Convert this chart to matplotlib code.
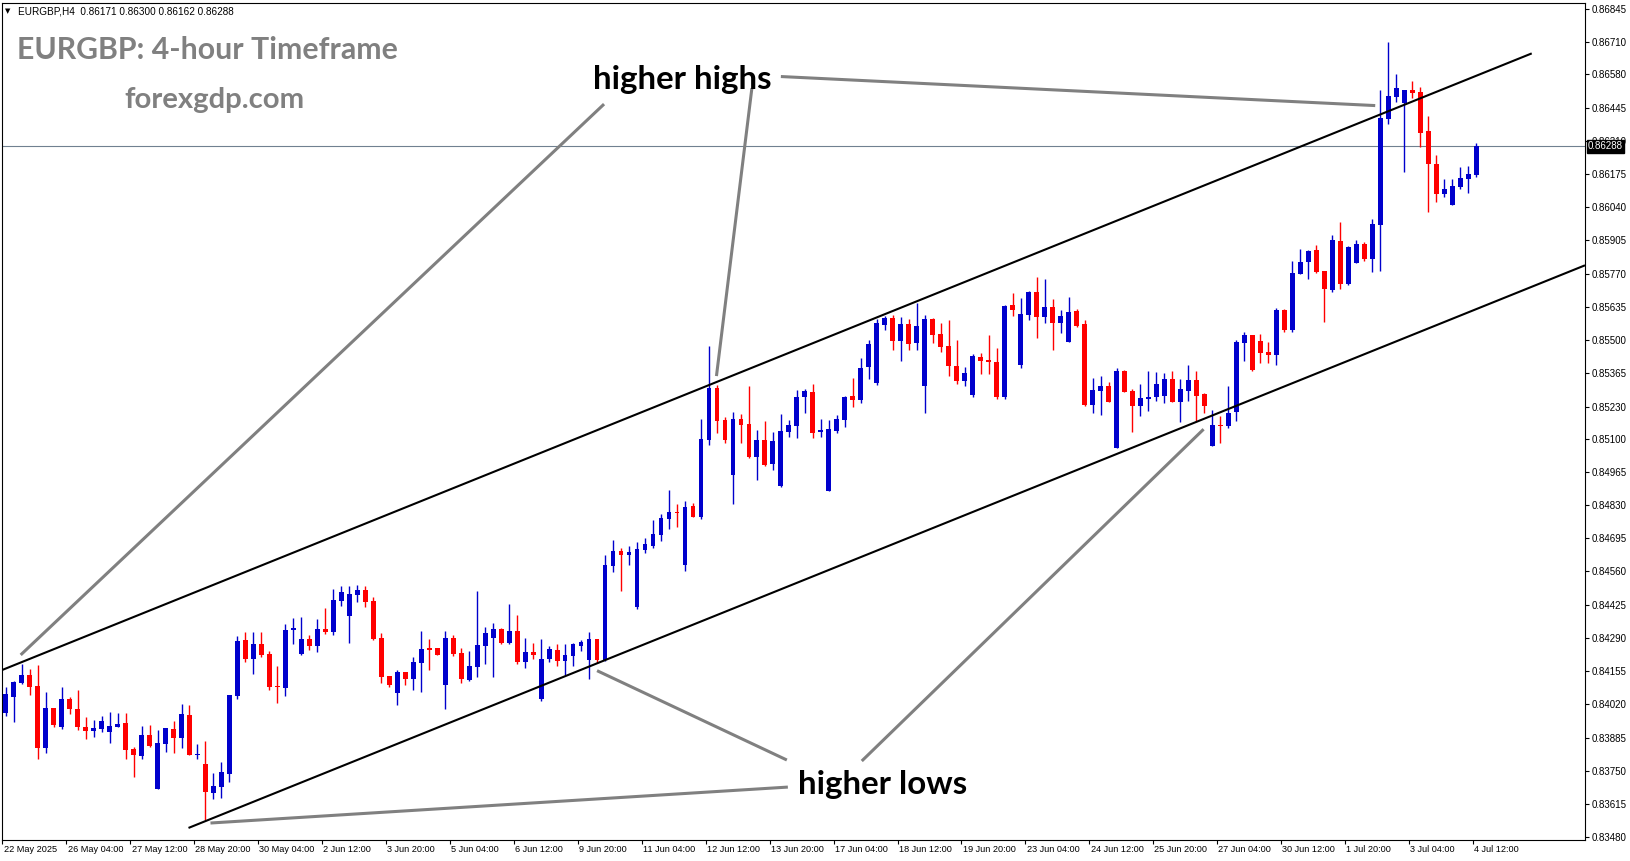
#!/usr/bin/env python3
#
# plot.py - EURGBP H4 candlestick chart with rising channel
#

import numpy as np
import matplotlib
matplotlib.use("Agg")
import matplotlib.pyplot as plt
import matplotlib.transforms as mtrans

#%%============================================================================
# Data
#==============================================================================
opens = [
    0.83986, 0.84051, 0.84108, 0.84138, 0.84095, 0.83843, 0.84005, 0.83929, 0.84041, 0.84003,
    0.83927, 0.83913, 0.83921, 0.83908, 0.83929, 0.83943, 0.83840, 0.83810, 0.83894, 0.83677,
    0.83859, 0.83919, 0.83883, 0.83976, 0.83816, 0.83778, 0.83661, 0.83686, 0.83737, 0.84053,
    0.84282, 0.84206, 0.84265, 0.84225, 0.84095, 0.84087, 0.84322, 0.84225, 0.84284, 0.84257,
    0.84325, 0.84314, 0.84441, 0.84379, 0.84466, 0.84485, 0.84439, 0.84290, 0.84135, 0.84067,
    0.84152, 0.84124, 0.84189, 0.84249, 0.84249, 0.84100, 0.84290, 0.84228, 0.84119, 0.84173,
    0.84257, 0.84290, 0.84325, 0.84271, 0.84317, 0.84192, 0.84233, 0.84043, 0.84203, 0.84241,
    0.84197, 0.84217, 0.84257, 0.84200, 0.84284, 0.84200, 0.84583, 0.84643, 0.84628, 0.84414,
    0.84647, 0.84665, 0.84709, 0.84774, 0.84802, 0.84587, 0.84825, 0.84783, 0.85094, 0.85305,
    0.85175, 0.84953, 0.85179, 0.85159, 0.85026, 0.85094, 0.84998, 0.84907, 0.85128, 0.85152,
    0.85270, 0.85289, 0.85128, 0.84888, 0.85132, 0.85177, 0.85273, 0.85258, 0.85391, 0.85326,
    0.85563, 0.85590, 0.85498, 0.85565, 0.85489, 0.85314, 0.85586, 0.85525, 0.85476, 0.85395,
    0.85335, 0.85277, 0.85430, 0.85419, 0.85411, 0.85270, 0.85643, 0.85399, 0.85603, 0.85695,
    0.85595, 0.85634, 0.85571, 0.85493, 0.85618, 0.85565, 0.85236, 0.85294, 0.85314, 0.85063,
    0.85374, 0.85293, 0.85233, 0.85262, 0.85270, 0.85274, 0.85342, 0.85250, 0.85294, 0.85338,
    0.85281, 0.85071, 0.85154, 0.85152, 0.85207, 0.85489, 0.85521, 0.85496, 0.85452, 0.85441,
    0.85622, 0.85542, 0.85770, 0.85818, 0.85865, 0.85781, 0.85703, 0.85903, 0.85729, 0.85814,
    0.85890, 0.85831, 0.85969, 0.86399, 0.86489, 0.86464, 0.86515, 0.86508, 0.86349, 0.86215,
    0.86095, 0.86050, 0.86123, 0.86156, 0.86171]

highs = [
    0.84092, 0.84116, 0.84184, 0.84165, 0.84179, 0.84070, 0.84005, 0.84092, 0.84051, 0.84078,
    0.83968, 0.83957, 0.83973, 0.83989, 0.83984, 0.83984, 0.83846, 0.83932, 0.83935, 0.83916,
    0.83924, 0.83951, 0.84022, 0.84016, 0.83859, 0.83873, 0.83742, 0.83786, 0.84057, 0.84298,
    0.84314, 0.84314, 0.84314, 0.84238, 0.84174, 0.84347, 0.84371, 0.84374, 0.84301, 0.84366,
    0.84412, 0.84488, 0.84501, 0.84501, 0.84504, 0.84501, 0.84455, 0.84309, 0.84135, 0.84160,
    0.84152, 0.84211, 0.84317, 0.84284, 0.84249, 0.84317, 0.84303, 0.84249, 0.84238, 0.84479,
    0.84333, 0.84349, 0.84330, 0.84428, 0.84382, 0.84290, 0.84268, 0.84284, 0.84257, 0.84265,
    0.84265, 0.84268, 0.84282, 0.84314, 0.84284, 0.84627, 0.84688, 0.84654, 0.84663, 0.84680,
    0.84695, 0.84769, 0.84793, 0.84891, 0.84834, 0.84846, 0.84837, 0.85179, 0.85476, 0.85319,
    0.85186, 0.85208, 0.85200, 0.85314, 0.85135, 0.85171, 0.85127, 0.85200, 0.85175, 0.85297,
    0.85300, 0.85322, 0.85179, 0.85175, 0.85196, 0.85273, 0.85346, 0.85427, 0.85500, 0.85586,
    0.85598, 0.85601, 0.85595, 0.85584, 0.85652, 0.85602, 0.85591, 0.85568, 0.85582, 0.85500,
    0.85390, 0.85443, 0.85446, 0.85521, 0.85468, 0.85643, 0.85693, 0.85671, 0.85699, 0.85758,
    0.85748, 0.85667, 0.85622, 0.85676, 0.85626, 0.85582, 0.85346, 0.85354, 0.85330, 0.85387,
    0.85378, 0.85301, 0.85322, 0.85373, 0.85372, 0.85366, 0.85374, 0.85342, 0.85400, 0.85374,
    0.85286, 0.85216, 0.85192, 0.85314, 0.85500, 0.85533, 0.85521, 0.85525, 0.85492, 0.85630,
    0.85628, 0.85821, 0.85870, 0.85867, 0.85885, 0.85781, 0.85928, 0.85980, 0.85882, 0.85907,
    0.85899, 0.85992, 0.86516, 0.86711, 0.86581, 0.86517, 0.86553, 0.86528, 0.86410, 0.86252,
    0.86154, 0.86154, 0.86204, 0.86207, 0.86300]

lows = [
    0.83973, 0.83948, 0.84103, 0.84059, 0.83799, 0.83824, 0.83929, 0.83921, 0.83981, 0.83916,
    0.83881, 0.83889, 0.83908, 0.83864, 0.83929, 0.83799, 0.83726, 0.83799, 0.83848, 0.83677,
    0.83827, 0.83824, 0.83843, 0.83816, 0.83799, 0.83550, 0.83637, 0.83640, 0.83705, 0.84043,
    0.84192, 0.84143, 0.84214, 0.84078, 0.84027, 0.84053, 0.84265, 0.84222, 0.84241, 0.84233,
    0.84306, 0.84303, 0.84420, 0.84271, 0.84436, 0.84417, 0.84282, 0.84106, 0.84089, 0.84016,
    0.84100, 0.84078, 0.84070, 0.84160, 0.84222, 0.84000, 0.84217, 0.84108, 0.84116, 0.84132,
    0.84184, 0.84132, 0.84265, 0.84265, 0.84184, 0.84168, 0.84206, 0.84035, 0.84192, 0.84176,
    0.84141, 0.84176, 0.84238, 0.84122, 0.84187, 0.84196, 0.84559, 0.84482, 0.84587, 0.84409,
    0.84636, 0.84657, 0.84685, 0.84733, 0.84742, 0.84563, 0.84783, 0.84774, 0.85075, 0.85124,
    0.85083, 0.84834, 0.85083, 0.85021, 0.84932, 0.84989, 0.84972, 0.84904, 0.85108, 0.85102,
    0.85205, 0.85102, 0.85108, 0.84888, 0.85124, 0.85148, 0.85229, 0.85243, 0.85342, 0.85318,
    0.85541, 0.85460, 0.85416, 0.85460, 0.85460, 0.85205, 0.85489, 0.85452, 0.85354, 0.85322,
    0.85314, 0.85270, 0.85362, 0.85362, 0.85262, 0.85262, 0.85598, 0.85387, 0.85582, 0.85508,
    0.85569, 0.85460, 0.85529, 0.85493, 0.85554, 0.85232, 0.85204, 0.85197, 0.85249, 0.85063,
    0.85290, 0.85127, 0.85193, 0.85213, 0.85253, 0.85246, 0.85250, 0.85168, 0.85254, 0.85171,
    0.85205, 0.85071, 0.85081, 0.85142, 0.85173, 0.85414, 0.85373, 0.85406, 0.85406, 0.85398,
    0.85532, 0.85534, 0.85770, 0.85749, 0.85773, 0.85575, 0.85697, 0.85709, 0.85725, 0.85814,
    0.85823, 0.85778, 0.85782, 0.86378, 0.86468, 0.86184, 0.86485, 0.86286, 0.86022, 0.86061,
    0.86083, 0.86048, 0.86113, 0.86099, 0.86162]

closes = [
    0.84062, 0.84111, 0.84138, 0.84092, 0.83843, 0.84005, 0.83937, 0.84041, 0.84003, 0.83929,
    0.83913, 0.83924, 0.83951, 0.83932, 0.83940, 0.83835, 0.83813, 0.83894, 0.83851, 0.83862,
    0.83924, 0.83883, 0.83981, 0.83816, 0.83818, 0.83664, 0.83688, 0.83745, 0.84057, 0.84276,
    0.84203, 0.84265, 0.84219, 0.84089, 0.84089, 0.84322, 0.84330, 0.84284, 0.84257, 0.84325,
    0.84314, 0.84444, 0.84477, 0.84468, 0.84485, 0.84436, 0.84284, 0.84132, 0.84100, 0.84152,
    0.84124, 0.84192, 0.84244, 0.84241, 0.84222, 0.84290, 0.84225, 0.84122, 0.84176, 0.84260,
    0.84309, 0.84325, 0.84271, 0.84317, 0.84192, 0.84233, 0.84222, 0.84203, 0.84244, 0.84197,
    0.84219, 0.84265, 0.84273, 0.84284, 0.84200, 0.84586, 0.84643, 0.84627, 0.84639, 0.84651,
    0.84672, 0.84712, 0.84777, 0.84802, 0.84796, 0.84822, 0.84783, 0.85098, 0.85305, 0.85173,
    0.85094, 0.85179, 0.85156, 0.85026, 0.85094, 0.84994, 0.85090, 0.85131, 0.85155, 0.85269,
    0.85293, 0.85124, 0.85135, 0.85139, 0.85179, 0.85269, 0.85258, 0.85387, 0.85484, 0.85569,
    0.85590, 0.85498, 0.85565, 0.85484, 0.85557, 0.85586, 0.85522, 0.85473, 0.85395, 0.85335,
    0.85366, 0.85435, 0.85416, 0.85412, 0.85270, 0.85638, 0.85622, 0.85606, 0.85695, 0.85595,
    0.85634, 0.85571, 0.85598, 0.85614, 0.85557, 0.85236, 0.85297, 0.85314, 0.85249, 0.85374,
    0.85290, 0.85233, 0.85265, 0.85268, 0.85322, 0.85342, 0.85250, 0.85301, 0.85338, 0.85274,
    0.85233, 0.85155, 0.85151, 0.85203, 0.85492, 0.85519, 0.85378, 0.85449, 0.85441, 0.85622,
    0.85542, 0.85773, 0.85817, 0.85862, 0.85778, 0.85709, 0.85907, 0.85729, 0.85878, 0.85890,
    0.85828, 0.85972, 0.86403, 0.86492, 0.86523, 0.86515, 0.86505, 0.86343, 0.86217, 0.86095,
    0.86113, 0.86126, 0.86159, 0.86175, 0.86288]

# time axis labels, one every 8 bars (32 hours)
time_labels = ["22 May 2025", "26 May 04:00", "27 May 12:00", "28 May 20:00",
               "30 May 04:00", "2 Jun 12:00", "3 Jun 20:00", "5 Jun 04:00",
               "6 Jun 12:00", "9 Jun 20:00", "11 Jun 04:00", "12 Jun 12:00",
               "13 Jun 20:00", "17 Jun 04:00", "18 Jun 12:00", "19 Jun 20:00",
               "23 Jun 04:00", "24 Jun 12:00", "25 Jun 20:00", "27 Jun 04:00",
               "30 Jun 12:00", "1 Jul 20:00", "3 Jul 04:00", "4 Jul 12:00"]
label_step = 8

price_ticks = [0.86845, 0.86710, 0.86580, 0.86445, 0.86310, 0.86175, 0.86040,
               0.85905, 0.85770, 0.85635, 0.85500, 0.85365, 0.85230, 0.85100,
               0.84965, 0.84830, 0.84695, 0.84560, 0.84425, 0.84290, 0.84155,
               0.84020, 0.83885, 0.83750, 0.83615, 0.83480]

# channel lines (bar index, price)
upper_channel = [(-0.5, 0.84159), (190.96, 0.86665)]
lower_channel = [(22.875, 0.83518), (197.625, 0.85804)]

# grey pointer lines (bar index, price)
pointers = [
    [(1.875, 0.84221), (74.875, 0.86459)],
    [(93.375, 0.86524), (88.94, 0.85354)],
    [(97.0, 0.86571), (171.375, 0.86453)],
    [(97.75, 0.83794), (74.0, 0.84157)],
    [(97.875, 0.83684), (25.625, 0.83538)],
    [(107.125, 0.83790), (149.9, 0.85138)],
]

#%%============================================================================
# Figure layout
#==============================================================================
W, H = 1631, 861
def fx(px):
    return px / W

def fy(py):
    return 1 - py / H

BLUE = '#0000CC'
RED = '#FF0000'
GREY = '#808080'
AXFONT = ['Liberation Sans', 'DejaVu Sans']

fig = plt.figure(figsize=(W / 100, H / 100), dpi=100)
fig.patch.set_facecolor('white')
ax = fig.add_axes([fx(2.5), fy(840), fx(1585) - fx(2.5), fy(2.7) - fy(840)])

ax.set_xlim(-0.1875, 197.625)
ax.set_ylim(0.83469, 0.86871)

#%%============================================================================
# Candles
#==============================================================================
o = np.array(opens)
h = np.array(highs)
l = np.array(lows)
c = np.array(closes)
x = np.arange(len(o))
cols = np.where(c >= o, BLUE, RED)

ax.axhline(c[-1], color='#708090', lw=0.8, zorder=1)
ax.vlines(x, l, h, colors=cols, lw=1.0, zorder=2)
body_lo = np.minimum(o, c)
body_h = np.maximum(np.abs(c - o), 0.00003)
ax.bar(x, body_h, bottom=body_lo, width=0.6, color=cols, linewidth=0, zorder=3)

# channel
for line in (upper_channel, lower_channel):
    xs, ys = zip(*line)
    ax.plot(xs, ys, color='black', lw=1.5, zorder=4, solid_capstyle='butt')

for line in pointers:
    xs, ys = zip(*line)
    ax.plot(xs, ys, color=GREY, lw=2.2, zorder=4, solid_capstyle='butt')

#%%============================================================================
# Axes styling
#==============================================================================
for sp in ax.spines.values():
    sp.set_color('black')
    sp.set_linewidth(0.8)

ax.yaxis.tick_right()
ax.set_yticks(price_ticks)
ax.set_yticklabels(["%.5f" % p for p in price_ticks], fontfamily=AXFONT)
ax.tick_params(axis='y', length=3, width=0.8, pad=2, labelsize=7.0,
               direction='out', colors='black')

tick_pos = np.arange(len(time_labels)) * label_step
ax.set_xticks(tick_pos - 0.4)
ax.set_xticklabels([])
ax.tick_params(axis='x', length=3, width=0.8, direction='out')

trans = mtrans.offset_copy(ax.get_xaxis_transform(), fig=fig, x=0, y=-9,
                           units='dots')
for pos, lab in zip(tick_pos, time_labels):
    ax.text(pos - 0.25, 0, lab, transform=trans, ha='left', va='center',
            fontsize=6.6, fontfamily=AXFONT, color='black')

# current price box (sits over the 0.86310 label, as on the terminal)
ax.annotate("%.5f" % c[-1], xy=(1, c[-1]), xycoords=('axes fraction', 'data'),
            xytext=(3, 0), textcoords='offset pixels', ha='left', va='center',
            fontsize=7.0, fontfamily=AXFONT, color='white', zorder=10,
            bbox=dict(boxstyle='square,pad=0.15', fc='black', ec='black'),
            annotation_clip=False)

#%%============================================================================
# Texts
#==============================================================================
fig.text(fx(5), fy(11), u'\u25BC', fontsize=5, va='center', ha='left',
         fontfamily=['DejaVu Sans'])
fig.text(fx(18), fy(11), "EURGBP,H4  %.5f %.5f %.5f %.5f" % (o[-1], h[-1], l[-1], c[-1]),
         fontsize=7.2, va='center', ha='left', fontfamily=AXFONT)

t1 = fig.text(fx(17), fy(59), "EURGBP: 4-hour Timeframe", fontsize=26,
              fontweight='bold', color=GREY, fontfamily='Lato', va='baseline')
t2 = fig.text(fx(124), fy(108), "forexgdp.com", fontsize=22,
              fontweight='bold', color=GREY, fontfamily='Lato', va='baseline')
t3 = fig.text(fx(593), fy(88.5), "higher highs", fontsize=24,
              fontweight='bold', color='black', fontfamily='Lato', va='baseline')
t4 = fig.text(fx(798), fy(794), "higher lows", fontsize=24,
              fontweight='bold', color='black', fontfamily='Lato', va='baseline')

# scale the big labels to their width on the chart
renderer = fig.canvas.get_renderer()
for t, wpx in ((t1, 380), (t2, 180), (t3, 179), (t4, 169)):
    w = t.get_window_extent(renderer).width
    t.set_fontsize(t.get_fontsize() * wpx / w)

fig.savefig('out.png', dpi=100)
